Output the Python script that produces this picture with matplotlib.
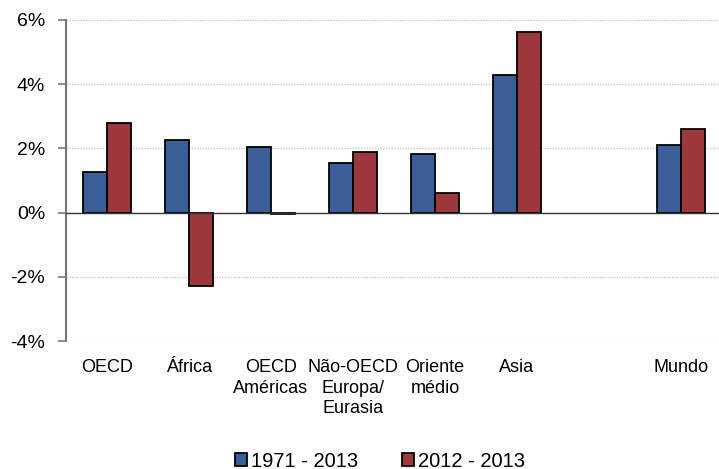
import numpy as np
import matplotlib.pyplot as plt
from matplotlib.ticker import PercentFormatter

# categories (empty slot between Asia and Mundo as in the original)
categories = ["OECD", "África", "OECD\nAméricas", "Não-OECD\nEuropa/\nEurasia",
              "Oriente\nmédio", "Asia", "", "Mundo"]
growth_1971_2013 = [1.25, 2.25, 2.03, 1.56, 1.84, 4.28, np.nan, 2.12]
growth_2012_2013 = [2.78, -2.28, -0.05, 1.88, 0.62, 5.62, np.nan, 2.59]
series_labels = ["1971 - 2013", "2012 - 2013"]
yticks = [-4, -2, 0, 2, 4, 6]

plt.rcParams['font.family'] = ['Liberation Sans', 'DejaVu Sans']
plt.rcParams['axes.unicode_minus'] = False

blue = "#3a5f99"
red = "#9c383b"

fig = plt.figure(figsize=(7.19, 4.69), dpi=100)
ax = fig.add_axes([66 / 719, 1 - 341 / 469, (722 - 66) / 719, (341 - 20) / 469])

x = np.arange(len(categories))
w = 0.29
ax.bar(x - w / 2, growth_1971_2013, w, color=blue, edgecolor="black", linewidth=1.3,
       label=series_labels[0], zorder=3)
ax.bar(x + w / 2, growth_2012_2013, w, color=red, edgecolor="black", linewidth=1.3,
       label=series_labels[1], zorder=3)

ax.set_xlim(-0.5, len(categories) - 0.5)
ax.set_ylim(-4, 6)
ax.set_yticks(yticks)
ax.yaxis.set_major_formatter(PercentFormatter(decimals=0))
ax.set_xticks(x)
ax.set_xticklabels(categories, fontsize=13, linespacing=1.28, va="top")

for gy in yticks:
    if gy != 0:
        ax.axhline(gy, color="#c8c8c8", linestyle=(0, (1, 1)), linewidth=1.0, zorder=1)
ax.axhline(0, color="#333333", linewidth=1.0, zorder=4)

for s in ["top", "right", "bottom"]:
    ax.spines[s].set_visible(False)
ax.spines["left"].set_color("#777777")
ax.spines["left"].set_linewidth(1.5)
ax.tick_params(axis="y", labelsize=14, length=6, color="#777777", width=1.2, pad=9)
ax.tick_params(axis="x", length=0, pad=13)

fig.legend(loc="center", bbox_to_anchor=(380 / 719, 1 - 461 / 469), ncol=2,
           frameon=False, fontsize=14.5, handlelength=0.6, handleheight=0.6,
           handletextpad=0.2, columnspacing=2.2)

fig.savefig("out.png", dpi=100)
